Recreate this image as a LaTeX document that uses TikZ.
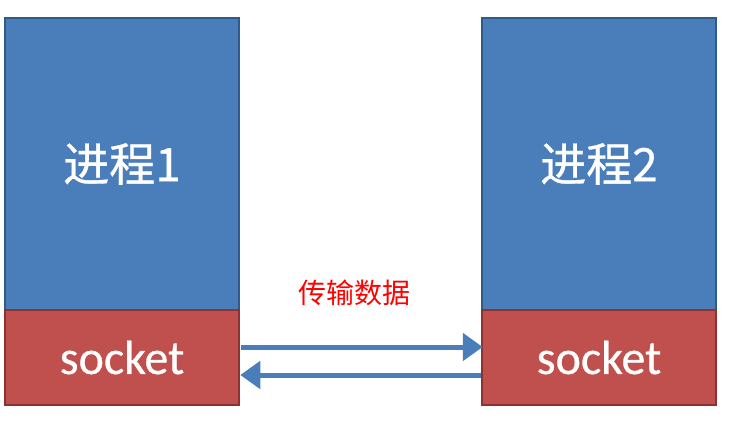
\documentclass[tikz,border=0pt]{standalone}
\usepackage{fontspec}
\setmainfont{Carlito}[FakeBold=0.6]
\newfontfamily\cjk{Noto Sans CJK SC}[FakeBold=0.8]
\newfontfamily\cjkthin{Noto Sans CJK SC}
\usetikzlibrary{arrows.meta}
\definecolor{procblue}{HTML}{4A7EBB}
\definecolor{procblueline}{HTML}{2F5A8C}
\definecolor{sockred}{HTML}{C0504D}
\definecolor{sockredline}{HTML}{8C3331}
\definecolor{arrowblue}{HTML}{4A7EBB}
\begin{document}
\begin{tikzpicture}[x=1pt,y=-1pt,
  procbox/.style={draw=procblueline,line width=2.5pt,fill=procblue,minimum width=234pt,minimum height=292pt,inner sep=0pt,text=white,font=\fontsize{46}{50}\selectfont},
  sockbox/.style={draw=sockredline,line width=2.5pt,fill=sockred,minimum width=234pt,minimum height=95pt,inner sep=0pt,text=white,font=\fontsize{48}{52}\selectfont},
  flow/.style={draw=arrowblue,line width=5pt,-{Triangle[length=20pt,width=27pt]}},
  lbl/.style={text=red,font=\cjkthin\fontsize{28}{30}\selectfont}]
\fill[white] (0,0) rectangle (755,422);
\useasboundingbox (0,0) rectangle (755,422);
\node[procbox] (p1) at (122,164) {\cjk 进程1};
\node[sockbox] (s1) at (122,357.5) {socket};
\node[procbox] (p2) at (599,164) {\cjk 进程2};
\node[sockbox] (s2) at (599,357.5) {socket};
\coordinate (a1) at (s1.east |- 0,347);
\coordinate (a2) at (s2.west |- 0,347);
\coordinate (b1) at (s2.west |- 0,375);
\coordinate (b2) at (s1.east |- 0,375);
\draw[flow] ([xshift=1pt]a1) -- ([xshift=2pt]a2);
\draw[flow] (b1) -- (b2);
\node[lbl] (t) at (354,293) {传输数据};
\end{tikzpicture}
\end{document}
